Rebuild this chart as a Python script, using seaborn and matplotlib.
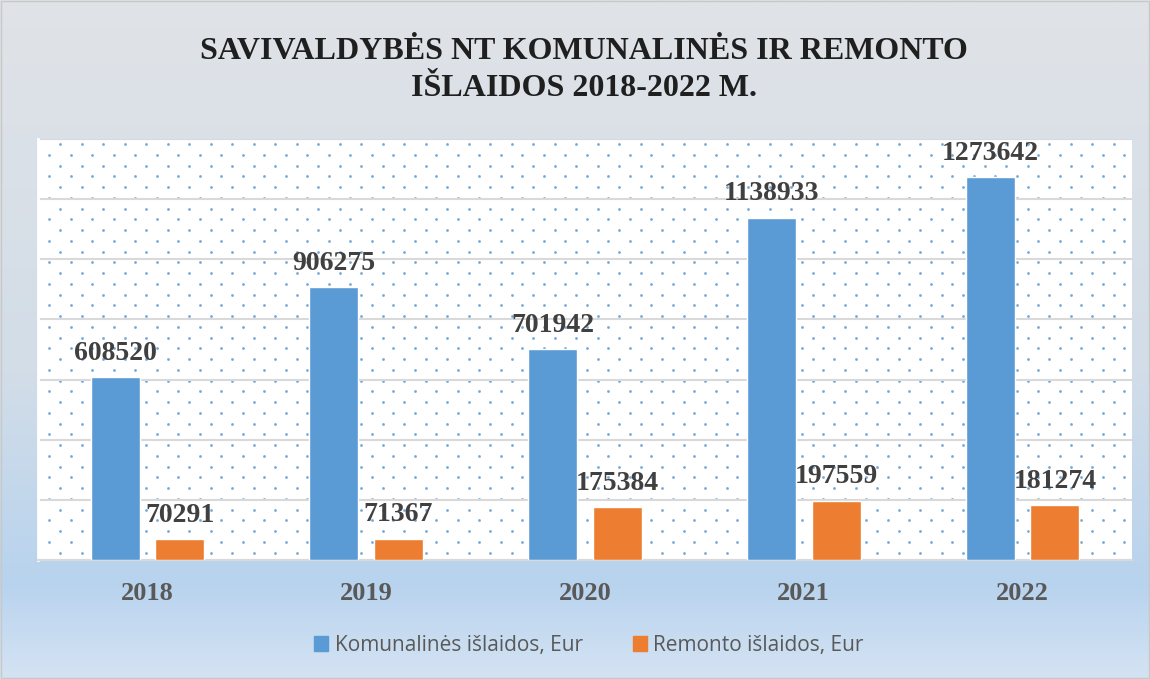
import numpy as np
import pandas as pd
import matplotlib
matplotlib.use('Agg')
import matplotlib.pyplot as plt
from matplotlib.colors import LinearSegmentedColormap
import seaborn as sns

# Chart data
years = ['2018', '2019', '2020', '2021', '2022']
komunalines = [608520, 906275, 701942, 1138933, 1273642]
remonto = [70291, 71367, 175384, 197559, 181274]
series_names = ['Komunalinės išlaidos, Eur', 'Remonto išlaidos, Eur']
title = 'SAVIVALDYBĖS NT KOMUNALINĖS IR REMONTO\nIŠLAIDOS 2018-2022 M.'

df = pd.DataFrame({
    'Metai': years * 2,
    'Suma': komunalines + remonto,
    'Serija': [series_names[0]] * len(years) + [series_names[1]] * len(years),
})

sns.set_style('white')
plt.rcParams['font.family'] = ['Liberation Serif', 'DejaVu Serif']

W, H = 1150, 679
fig = plt.figure(figsize=(W / 100, H / 100), dpi=100)

# gradient background
bg = fig.add_axes([0, 0, 1, 1], zorder=-10)
cmap = LinearSegmentedColormap.from_list(
    'bg', [(0, '#E0E3E7'), (0.55, '#D2DDE8'), (0.86, '#B8D3EE'), (1.0, '#D4E3F3')])
grad = np.linspace(0, 1, 256).reshape(-1, 1)
bg.imshow(grad, aspect='auto', cmap=cmap, extent=[0, 1, 0, 1], origin='upper')
bg.set_axis_off()
bg.add_patch(plt.Rectangle((0.001, 0.001), 0.998, 0.997, fill=False,
                           edgecolor='#C8C8C8', lw=1, transform=bg.transAxes))

x0, x1, y0, y1 = 38, 1132, 139, 560
ax = fig.add_axes([x0 / W, 1 - y1 / H, (x1 - x0) / W, (y1 - y0) / H])
ax.set_facecolor('white')

# dotted pattern
pw, ph = x1 - x0, y1 - y0
dx, dy = 21.5, 10.75
pts_x, pts_y = [], []
row = 0
yy = ph - 5
while yy > 0:
    off = 0 if row % 2 == 0 else dx / 2
    xx = 22 - off
    while xx < pw:
        if xx > 0:
            pts_x.append(xx / pw)
            pts_y.append(yy / ph)
        xx += dx
    yy -= dy
    row += 1
ax.scatter(pts_x, pts_y, s=4, color='#5B9BD5', alpha=0.85, lw=0,
           transform=ax.transAxes, zorder=0)

sns.barplot(data=df, x='Metai', y='Suma', hue='Serija', ax=ax,
            palette=['#5B9BD5', '#ED7D31'], width=0.59, gap=0.24,
            saturation=1, legend=True, zorder=3)

ax.set_ylim(0, 1400000)
ax.set_xlim(-0.5, 4.5)
ax.set_yticks(np.arange(0, 1400001, 200000))
ax.yaxis.grid(True, color='#D9D9D9', lw=1.5, zorder=1)
ax.set_axisbelow(True)
ax.tick_params(axis='y', left=False, labelleft=False)
ax.tick_params(axis='x', bottom=False, pad=12)
for lab in ax.get_xticklabels():
    lab.set_fontsize(19)
    lab.set_fontweight('bold')
    lab.set_color('#595959')
ax.set_xlabel('')
ax.set_ylabel('')
for s in ['top', 'right']:
    ax.spines[s].set_visible(False)
ax.spines['left'].set_color('white')
ax.spines['left'].set_linewidth(2)
ax.spines['bottom'].set_color('#D9D9D9')
ax.spines['bottom'].set_linewidth(1.5)

for cont in ax.containers:
    ax.bar_label(cont, fmt='%d', padding=8, fontsize=20, fontweight='bold',
                 color='#404040')

ax.legend_.remove()
handles = [plt.Rectangle((0, 0), 1, 1, color=c) for c in ['#5B9BD5', '#ED7D31']]
fig.legend(handles, series_names, loc='center', bbox_to_anchor=(0.512, 1 - 645 / H),
           ncol=2, frameon=False, handlelength=0.7, handleheight=0.7,
           handletextpad=0.3, columnspacing=2.4,
           prop={'family': ['Open Sans', 'DejaVu Sans'], 'size': 15},
           labelcolor='#595959')

fig.text(0.508, 1 - 70 / H, title, ha='center', va='center', fontsize=23,
         fontweight='bold', color='#1F1F1F', linespacing=1.35)

fig.savefig('out.png', dpi=100)
